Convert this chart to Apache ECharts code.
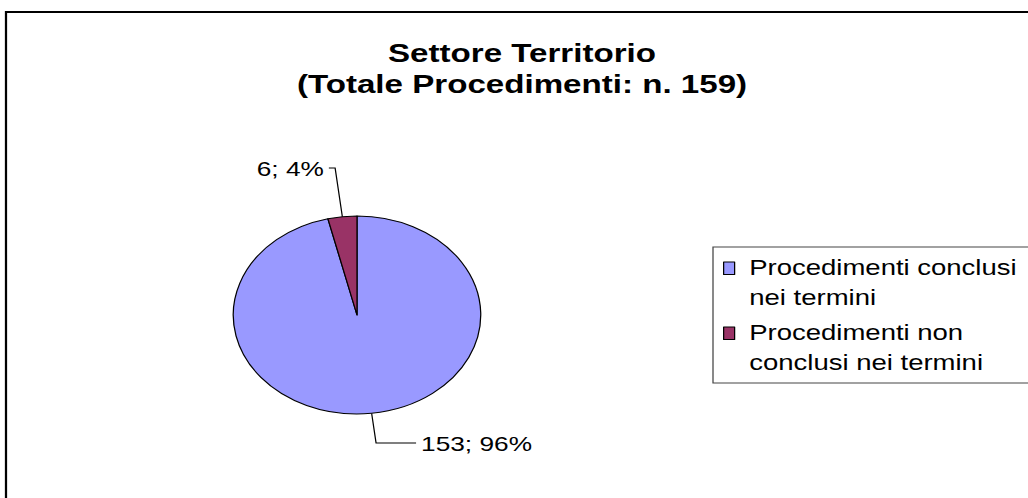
<!DOCTYPE html>
<html>
<head>
<meta charset="utf-8">
<script src="https://cdn.jsdelivr.net/npm/echarts@6/dist/echarts.min.js"></script>
<style>
  html, body { margin: 0; padding: 0; background: #fff; overflow: hidden; }
  /* the reference is stretched sideways, so draw narrow and widen */
  #chart { width: 823px; height: 498px; transform: scaleX(1.25); transform-origin: 0 0; }
</style>
</head>
<body>
<div id="chart"></div>
<script>
const categories = ['Procedimenti conclusi nei termini', 'Procedimenti non conclusi nei termini']
const counts = [153, 6]
const legendLabels = ['Procedimenti conclusi\nnei termini', 'Procedimenti non\nconclusi nei termini']

const font = '"Liberation Sans", Arial, sans-serif'

const chart = echarts.init(document.getElementById('chart'), null, { renderer: 'svg' })

// label leader lengths, first is the big slice
const leader = [
  { length: 30, length2: 32 },
  { length: 49, length2: 5 },
]

chart.setOption({
  animation: false,
  color: ['#9999ff', '#993366'],
  title: {
    text: 'Settore Territorio\n(Totale Procedimenti: n. 159)',
    left: 417.6,
    top: 36.75,
    padding: 0,
    textAlign: 'center',
    textStyle: {
      fontFamily: font,
      fontSize: 26.5,
      fontWeight: 'bold',
      lineHeight: 31.5,
      color: '#000',
    },
  },
  legend: {
    orient: 'vertical',
    left: 570.4,
    top: 247,
    padding: [5, 30, 6, 8],
    itemGap: 5,
    itemWidth: 15.5,
    itemHeight: 40,
    // square on top of a tall icon box so it sits on the first text line
    icon: 'path://M0,0L8.8,0L8.8,12.5L0,12.5Z M15.5,40L15.5,40.01',
    symbolKeepAspect: false,
    selectedMode: false,
    borderColor: '#444',
    borderWidth: 1,
    itemStyle: { borderColor: '#000', borderWidth: 1 },
    formatter: name => legendLabels[categories.indexOf(name)],
    textStyle: { fontFamily: font, fontSize: 22, lineHeight: 30, color: '#000' },
    data: categories,
  },
  graphic: [{
    type: 'rect',
    shape: { x: 4.8, y: 12, width: 1000, height: 600 },
    style: { fill: 'none', stroke: '#000', lineWidth: 1.8 },
    silent: true,
  }],
  series: [{
    type: 'pie',
    center: [285.6, 315],
    radius: 99,
    startAngle: 90,
    clockwise: true,
    percentPrecision: 0,
    avoidLabelOverlap: false,
    emphasis: { disabled: true },
    itemStyle: { borderColor: '#000', borderWidth: 1 },
    label: {
      formatter: '{c}; {d}%',
      fontFamily: font,
      fontSize: 21,
      color: '#000',
      distanceToLabelLine: 4,
    },
    labelLine: { lineStyle: { color: '#000', width: 1 } },
    data: categories.map((name, i) => ({
      name,
      value: counts[i],
      labelLine: leader[i],
    })),
  }],
})
</script>
</body>
</html>
